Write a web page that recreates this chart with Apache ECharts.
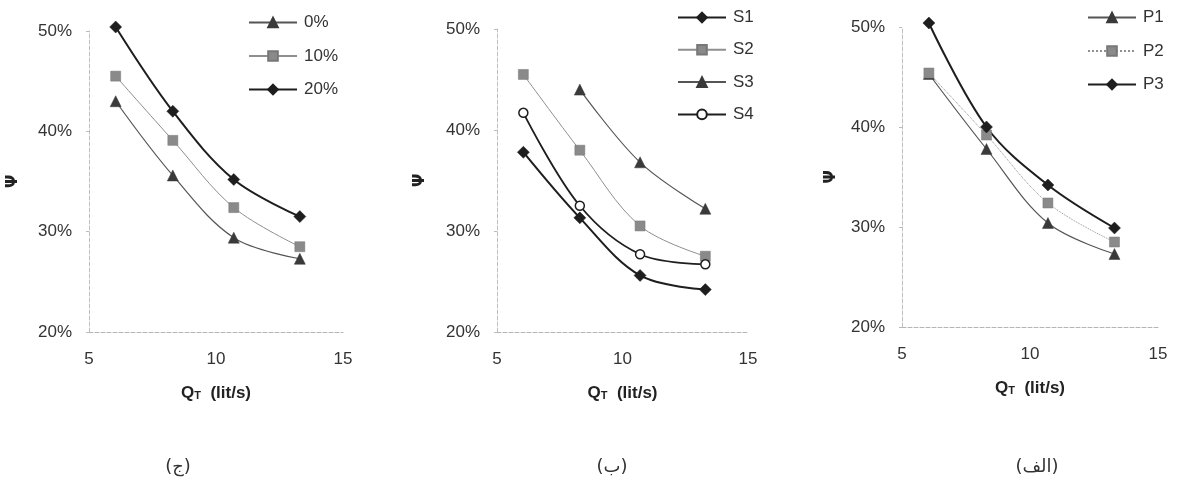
<!DOCTYPE html>
<html><head><meta charset="utf-8">
<script src="https://cdn.jsdelivr.net/npm/echarts@6/dist/echarts.min.js"></script>
<style>html,body{margin:0;padding:0;background:#fff}#c{width:1177px;height:489px}</style>
</head><body><div id="c"></div>
<script>
var xQ = [6.05, 8.3, 10.7, 13.3];
var xTicks = [5, 10, 15];
var yTicks = [20, 30, 40, 50];
// chart (ج)
var jNames = ['0%', '10%', '20%'];
var j0 = [43.0, 35.6, 29.4, 27.3];
var j10 = [45.5, 39.1, 32.4, 28.5];
var j20 = [50.4, 42.0, 35.2, 31.5];
// chart (ب)
var bNames = ['S1', 'S2', 'S3', 'S4'];
var bS1 = [37.8, 31.3, 25.6, 24.2];
var bS2 = [45.5, 38.0, 30.5, 27.5];
var bS3 = [null, 44.0, 36.8, 32.2];
var bS4 = [41.7, 32.5, 27.7, 26.7];
// chart (الف)
var aNames = ['P1', 'P2', 'P3'];
var aP1 = [45.3, 37.8, 30.4, 27.3];
var aP2 = [45.4, 39.2, 32.4, 28.5];
var aP3 = [50.4, 40.0, 34.2, 29.9];
var panelLabels = ['(ج)', '(ب)', '(الف)'];

function pairs(v){ var r=[]; for(var i=0;i<xQ.length;i++){ if(v[i]!=null) r.push([xQ[i], v[i]]); } return r; }

var FONT = '"Liberation Sans", Arial, sans-serif';
var grids = [
  {left: 89, top: 31, width: 254, height: 301},
  {left: 497, top: 29, width: 251, height: 303},
  {left: 902, top: 27, width: 256, height: 300}
];
var yGaps = [68, 69, 63];

var styles = {
  tri:  {symbol:'triangle', size:11, color:'#3a3a3a', line:'#555', width:1.2, border:'#3a3a3a', bw:0.5},
  sq:   {symbol:'rect', size:10, color:'#8a8a8a', line:'#8f8f8f', width:1, border:'#777', bw:0.5},
  dia:  {symbol:'diamond', size:12, color:'#1e1e1e', line:'#1e1e1e', width:2, border:'#1e1e1e', bw:0.5},
  circ: {symbol:'circle', size:9, color:'#fff', line:'#1e1e1e', width:1.8, border:'#1e1e1e', bw:1.5}
};

function mk(name, data, st, gi, lineType){
  return {
    name: name, type:'line', xAxisIndex: gi, yAxisIndex: gi,
    data: pairs(data), smooth: 0.35, clip: false, connectNulls: false,
    symbol: st.symbol, symbolSize: st.size, showSymbol: true,
    itemStyle: {color: st.color, borderColor: st.border, borderWidth: st.bw},
    lineStyle: {color: st.line, width: st.width, type: lineType || 'solid'},
    emphasis: {disabled: true}, animation: false, z: 3
  };
}

var xAxes = [], yAxes = [];
for (var g=0; g<3; g++){
  xAxes.push({
    type:'value', gridIndex:g, min:xTicks[0], max:xTicks[2], interval:5,
    axisLine:{show:true, lineStyle:{color:'#b5b5b5', type:'dashed', width:1}},
    axisTick:{show:false}, splitLine:{show:false},
    axisLabel:{color:'#333', fontSize:17, fontFamily:FONT, margin:19},
    name:'{q|Q}{t|T}  (lit/s)', nameLocation:'middle', nameGap:53,
    nameTextStyle:{color:'#222', fontSize:17, fontWeight:'bold', fontFamily:FONT,
      rich:{q:{fontSize:17, fontWeight:'bold', fontFamily:FONT, color:'#222'},
            t:{fontSize:11, fontWeight:'bold', fontFamily:FONT, color:'#222', padding:[4,0,0,0]}}}
  });
  yAxes.push({
    type:'value', gridIndex:g, min:yTicks[0], max:yTicks[3], interval:10,
    axisLine:{show:true, lineStyle:{color:'#c0c0c0', type:'dashed', width:1}},
    axisTick:{show:true, length:3, lineStyle:{color:'#bbb'}}, splitLine:{show:false},
    axisLabel:{color:'#333', fontSize:17, fontFamily:FONT, margin:17, formatter:'{value}%'},
    name:'Ψ', nameLocation:'middle', nameGap:yGaps[g], nameRotate:90,
    nameTextStyle:{color:'#222', fontSize:16, fontWeight:'bold', fontFamily:'"DejaVu Sans", sans-serif'}
  });
}

var series = [
  mk(jNames[0], j0, styles.tri, 0, 'solid'),
  mk(jNames[1], j10, styles.sq, 0, 'solid'),
  mk(jNames[2], j20, styles.dia, 0, 'solid'),
  mk(bNames[0], bS1, styles.dia, 1, 'solid'),
  mk(bNames[1], bS2, styles.sq, 1, 'solid'),
  mk(bNames[2], bS3, styles.tri, 1, 'solid'),
  mk(bNames[3], bS4, styles.circ, 1, 'solid'),
  mk(aNames[0], aP1, styles.tri, 2, 'solid'),
  mk(aNames[1], aP2, styles.sq, 2, 'dotted'),
  mk(aNames[2], aP3, styles.dia, 2, 'solid')
];

function legend(names, left, top, gap){
  return {data:names, orient:'vertical', left:left, top:top, itemWidth:48, itemHeight:12, itemGap:gap,
    textStyle:{color:'#333', fontSize:17, fontFamily:FONT, padding:[0,0,0,2]}, selectedMode:false};
}

var graphics = [];
var labelX = [178, 612, 1037];
for (var k=0;k<3;k++){
  graphics.push({type:'text', x: labelX[k], y: 467, style:{text: panelLabels[k], font:'18px "DejaVu Sans", sans-serif', fill:'#333', textAlign:'center', textVerticalAlign:'middle'}});
}

var chart = echarts.init(document.getElementById('c'), null, {renderer:'canvas'});
chart.setOption({
  backgroundColor:'#fff', animation:false,
  grid: grids, xAxis: xAxes, yAxis: yAxes, series: series,
  legend: [legend(jNames, 243, 9, 16.5), legend(bNames, 672, 4, 15.3), legend(aNames, 1082, 4, 16.5)],
  graphic: graphics
});
</script></body></html>
